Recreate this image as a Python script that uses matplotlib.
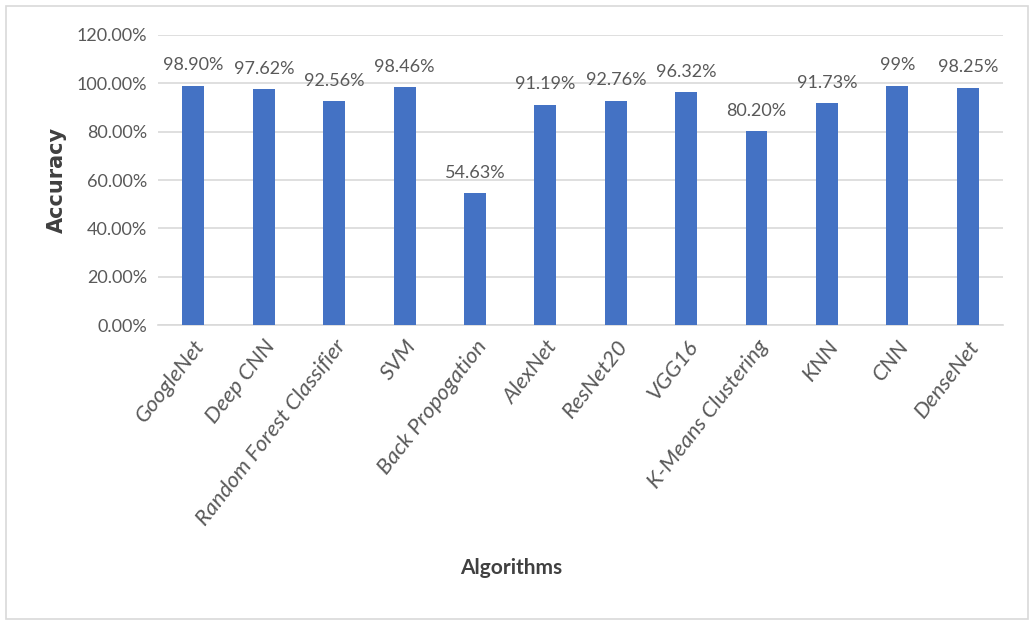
import matplotlib.pyplot as plt
from matplotlib.patches import Rectangle

algorithms = ["GoogleNet", "Deep CNN", "Random Forest Classifier", "SVM",
              "Back Propogation", "AlexNet", "ResNet20", "VGG16",
              "K-Means Clustering", "KNN", "CNN", "DenseNet"]
accuracy = [98.90, 97.62, 92.56, 98.46, 54.63, 91.19, 92.76, 96.32,
            80.20, 91.73, 99.0, 98.25]
value_labels = ["98.90%", "97.62%", "92.56%", "98.46%", "54.63%", "91.19%",
                "92.76%", "96.32%", "80.20%", "91.73%", "99%", "98.25%"]
y_ticks = [0, 20, 40, 60, 80, 100, 120]

plt.rcParams['font.family'] = ['Lato', 'DejaVu Sans']
grey = '#595959'

fig = plt.figure(figsize=(10.34, 6.23), dpi=100)
fig.patches.append(Rectangle((0.006, 0.006), 0.988, 0.984, transform=fig.transFigure,
                             fill=False, edgecolor='#d9d9d9', linewidth=1.2))
ax = fig.add_axes([0.153, 0.478, 0.817, 0.466])

x = range(len(algorithms))
ax.bar(x, accuracy, width=0.31, color='#4472C4', zorder=3)
for i, (v, lab) in enumerate(zip(accuracy, value_labels)):
    ax.annotate(lab, (i, v), xytext=(0, 9), textcoords='offset points',
                ha='center', va='bottom', fontsize=13, color=grey)

ax.set_xlim(-0.5, len(algorithms) - 0.5)
ax.set_ylim(0, 120)
ax.set_yticks(y_ticks)
ax.set_yticklabels(["%.2f%%" % t for t in y_ticks], fontsize=13, color=grey)
ax.set_xticks(list(x))
ax.set_xticklabels(algorithms, rotation=52, ha='right', rotation_mode='anchor',
                   fontsize=16, color=grey, style='italic')
ax.tick_params(axis='both', length=0, pad=8)
ax.yaxis.grid(True, color='#d9d9d9', linewidth=1.2, zorder=0)
for s in ['top', 'right', 'left']:
    ax.spines[s].set_visible(False)
ax.spines['bottom'].set_color('#d9d9d9')
ax.spines['bottom'].set_linewidth(1.2)

fig.text(0.055, 0.711, "Accuracy", rotation=90, ha='center', va='center',
         fontsize=15, fontweight='bold', color='#404040', family=['DejaVu Sans'])
fig.text(0.494, 0.088, "Algorithms", ha='center', va='center',
         fontsize=15, fontweight='bold', color='#404040')

plt.savefig("out.png", dpi=100)
